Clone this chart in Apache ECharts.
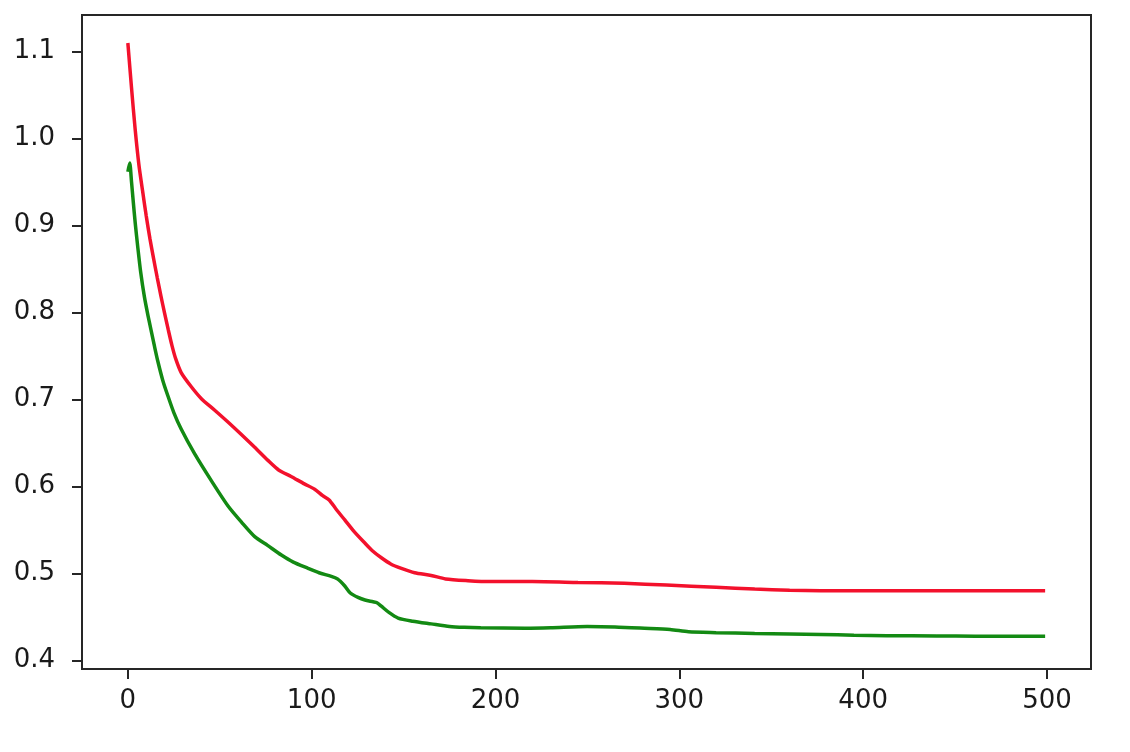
<!DOCTYPE html>
<html><head><meta charset="utf-8">
<script src="https://cdn.jsdelivr.net/npm/echarts@6/dist/echarts.min.js"></script>
<style>html,body{margin:0;padding:0;background:#fff}#c{width:1130px;height:752px}</style>
</head><body><div id="c"></div>
<script>
const redX = [0, 2, 4, 6, 8, 10, 12, 14, 16, 18, 20, 22, 24, 26, 29, 34.4, 40, 47.1, 54, 61.6, 69, 76.2, 82, 88.8, 96, 101.6, 106, 109.5, 113, 118, 123, 128.8, 133, 137.9, 143, 148.8, 156, 165, 172.8, 185, 196.9, 220, 244.9, 270, 293, 320, 341, 360, 377, 400, 437, 470, 499];
const redY = [1.110, 1.058, 1.010, 0.970, 0.940, 0.911, 0.885, 0.862, 0.840, 0.819, 0.799, 0.780, 0.762, 0.747, 0.731, 0.715, 0.701, 0.688, 0.675, 0.660, 0.645, 0.630, 0.619, 0.6115, 0.603, 0.5969, 0.5895, 0.5845, 0.5747, 0.5615, 0.5484, 0.5352, 0.5261, 0.5180, 0.5109, 0.5058, 0.5008, 0.4977, 0.4937, 0.4917, 0.4906, 0.4906, 0.4896, 0.4886, 0.4866, 0.4841, 0.4820, 0.4807, 0.4801, 0.4800, 0.4801, 0.4801, 0.4801];
const greenX = [0, 1, 2, 3, 4, 5.4, 7, 9, 11, 12.7, 14.5, 16.3, 19, 21.8, 25, 29, 36.2, 45.3, 54.5, 62, 69, 76, 83.5, 90, 98, 104, 110.7, 114, 118, 121, 125.2, 129, 133.4, 135.5, 137.9, 142, 147, 155, 165, 175, 183, 192, 216, 230, 249.8, 265, 281, 295, 305, 320, 341, 360, 377, 395, 413, 440, 461, 480, 499];
const greenY = [0.962, 0.972, 0.950, 0.926, 0.903, 0.875, 0.846, 0.818, 0.796, 0.779, 0.761, 0.744, 0.722, 0.704, 0.685, 0.666, 0.638, 0.607, 0.5775, 0.5585, 0.5423, 0.5322, 0.5211, 0.5130, 0.5059, 0.5008, 0.4967, 0.4937, 0.4856, 0.4775, 0.4724, 0.4694, 0.4674, 0.4663, 0.4623, 0.4552, 0.4487, 0.4451, 0.4420, 0.4390, 0.4380, 0.4375, 0.4370, 0.4375, 0.4390, 0.4385, 0.4370, 0.4355, 0.4329, 0.4319, 0.4309, 0.4304, 0.4299, 0.4289, 0.4284, 0.4281, 0.4279, 0.4277, 0.4277];
const xTicks = [0, 100, 200, 300, 400, 500];
const yTicks = [0.4, 0.5, 0.6, 0.7, 0.8, 0.9, 1.0, 1.1];

const pair = (xs, ys) => xs.map((x, i) => [x, ys[i]]);
const chart = echarts.init(document.getElementById('c'), null, {renderer: 'canvas'});
const labelFont = {fontFamily: 'DejaVu Sans', fontSize: 26, color: '#1a1a1a'};
const axisCol = '#262626';
chart.setOption({
  animation: false,
  backgroundColor: '#fff',
  grid: {left: 82, right: 39, top: 15, bottom: 83, show: true, borderColor: axisCol, borderWidth: 2, backgroundColor: 'transparent'},
  xAxis: {
    type: 'value', min: -24.95, max: 523.95,
    splitLine: {show: false},
    axisLine: {show: true, onZero: false, lineStyle: {color: axisCol, width: 2}},
    axisTick: {show: true, length: 10, lineStyle: {color: axisCol, width: 2}, customValues: xTicks},
    axisLabel: Object.assign({margin: 19, customValues: xTicks, formatter: v => String(v)}, labelFont)
  },
  yAxis: {
    type: 'value', min: 0.3901, max: 1.1422,
    splitLine: {show: false},
    axisLine: {show: true, onZero: false, lineStyle: {color: axisCol, width: 2}},
    axisTick: {show: true, length: 10, lineStyle: {color: axisCol, width: 2}, customValues: yTicks},
    axisLabel: Object.assign({margin: 27, customValues: yTicks, formatter: v => v.toFixed(1)}, labelFont)
  },
  series: [
    {type: 'line', data: pair(redX, redY), showSymbol: false, smooth: 0.25, lineStyle: {color: '#f3112c', width: 3.5}, itemStyle: {color: '#f3112c'}},
    {type: 'line', data: pair(greenX, greenY), showSymbol: false, smooth: 0.25, lineStyle: {color: '#138a13', width: 3.5}, itemStyle: {color: '#138a13'}}
  ]
});
</script></body></html>
